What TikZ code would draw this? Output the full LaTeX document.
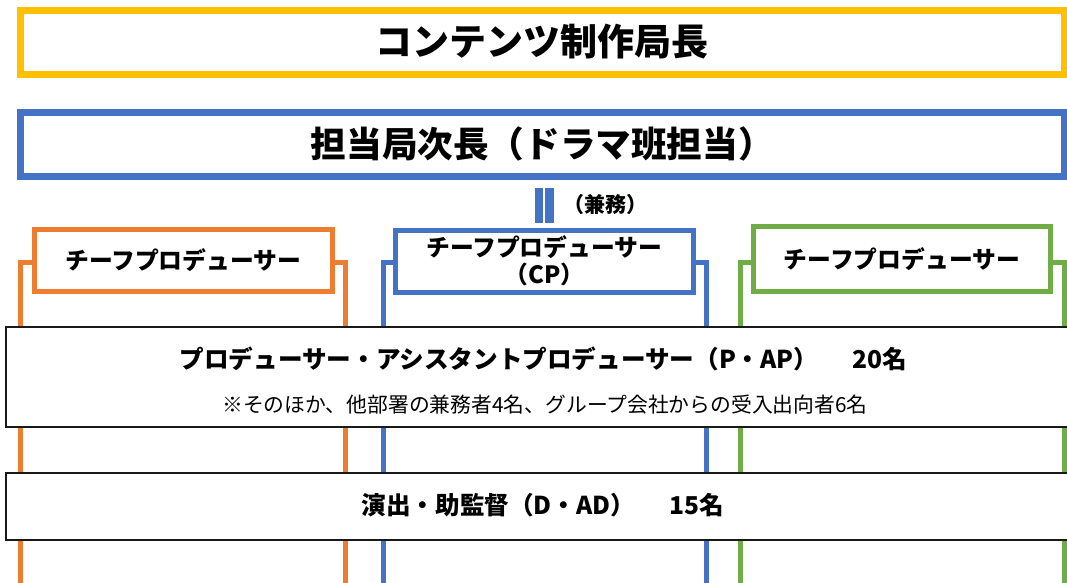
\documentclass[tikz,border=0pt]{standalone}
\usepackage{fontspec}
\setmainfont{Noto Sans CJK JP}
\usetikzlibrary{positioning}
\definecolor{kiiro}{HTML}{FFC000}
\definecolor{ao}{HTML}{4472C4}
\definecolor{daidai}{HTML}{ED7D31}
\definecolor{midori}{HTML}{70AD47}

\begin{document}
\begin{tikzpicture}[x=1pt, y=-1pt,
head/.style={draw, fill=white, line width=7pt, minimum width=1043.5pt,
  minimum height=64pt, inner sep=0pt, font=\fontsize{36}{40}\selectfont\bfseries},
chief/.style={draw, fill=white, line width=5pt, minimum width=297.5pt,
  minimum height=62pt, inner sep=0pt, align=center,
  font=\fontsize{23.8}{27}\selectfont\bfseries},
staff/.style={draw=black!90, fill=white, line width=2pt, minimum width=1076pt, inner sep=0pt},
bigtext/.style={inner sep=0pt, font=\fontsize{24.6}{28}\selectfont\bfseries},
smalltext/.style={inner sep=0pt, font=\fontsize{20.8}{24}\selectfont},
bracket/.style={line width=5pt},
kenmu/.style={draw=ao, line width=8.5pt, double=white, double distance=2pt}]

\useasboundingbox (0,0) rectangle (1067,582);

\node [head, draw=kiiro, font=\fontsize{37}{40}\selectfont\bfseries] (kyokucho) at (542.25,42) {コンテンツ制作局長};
\node [head, draw=ao, font=\fontsize{35.6}{40}\selectfont\bfseries] (jicho) at (542.25,144.25) {担当局次長（ドラマ班担当）};

\node [chief, draw=daidai] (cpleft) at (183.25,260.5) {チーフプロデューサー};
\node [chief, draw=ao] (cp) at (544.25,261) {チーフプロデューサー\\（CP）};
\node [chief, draw=midori, minimum height=65pt] (cpright) at (902,259.25) {チーフプロデューサー};

\path [kenmu, shorten <=8pt, shorten >=4.5pt] (jicho.south -| cp.north) -- (cp.north);
\node [smalltext, anchor=west, font=\fontsize{21}{24}\selectfont\bfseries] (kenmulabel) at (563,205) {（兼務）};

\draw [bracket, daidai] ([yshift=-2pt]cpleft.west) -| (20.5,600);
\draw [bracket, daidai] ([yshift=-2pt]cpleft.east) -| (345.5,600);
\draw [bracket, ao] ([yshift=-1.5pt]cp.west) -| (383,600);
\draw [bracket, ao] ([yshift=-1.5pt]cp.east) -| (706,600);
\draw [bracket, midori] ([yshift=-3.25pt]cpright.west) -| (740,600);
\draw [bracket, midori] ([yshift=-3.25pt]cpright.east) -| (1064,600);

\node [staff, minimum height=100pt] (prod) at (544,376.7) {};
\node [bigtext] (prodtitle) at (543.5,359) {プロデューサー・アシスタントプロデューサー（P・AP）\hspace{1.4em}20名};
\node [smalltext] (prodnote) at (545,405) {※そのほか、他部署の兼務者4名、グループ会社からの受入出向者6名};

\node [staff, minimum height=66.7pt] (dir) at (544,506.7) {};
\node [bigtext] (dirtitle) at (543,505) {演出・助監督（D・AD）\hspace{1.4em}15名};

\end{tikzpicture}
\end{document}
